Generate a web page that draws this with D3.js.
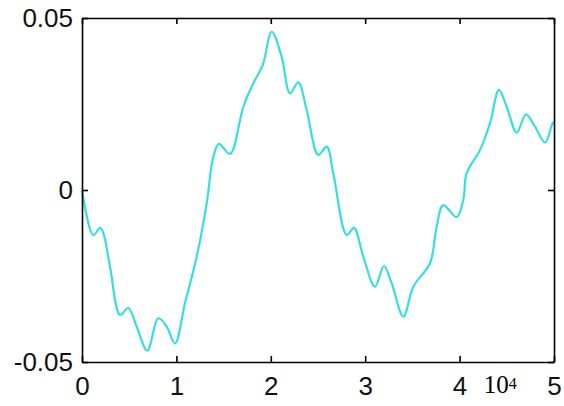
<!DOCTYPE html>
<html>
<head>
<meta charset="utf-8">
<script src="https://cdn.jsdelivr.net/npm/d3@7"></script>
<style>
  html, body { margin: 0; padding: 0; background: #fff; }
  svg { display: block; }
  .axis path, .axis line { stroke: #000; stroke-width: 1.6; }
  .axis text { font-family: "Liberation Sans", Arial, sans-serif; font-size: 26px; fill: #111; }
</style>
</head>
<body>
<div id="chart"></div>
<script>
// x in units of 10^4
const xValues = [0, 0.12, 0.191, 0.226, 0.297, 0.403, 0.49, 0.579, 0.692, 0.808, 0.897, 0.985,
  1.091, 1.215, 1.321, 1.391, 1.451, 1.568, 1.709, 1.815, 1.914, 2.01, 2.115, 2.203, 2.291,
  2.38, 2.503, 2.592, 2.662, 2.804, 2.881, 2.98, 3.104, 3.199, 3.281, 3.404, 3.51, 3.686,
  3.757, 3.827, 3.969, 4.039, 4.075, 4.216, 4.322, 4.417, 4.499, 4.605, 4.703, 4.799, 4.905,
  4.982, 5];
const yValues = [0, -0.0131, -0.011, -0.0125, -0.0223, -0.0363, -0.0343, -0.0397, -0.0467,
  -0.0373, -0.0397, -0.0446, -0.0329, -0.0194, -0.0039, 0.0097, 0.0134, 0.0105, 0.0242,
  0.031, 0.0363, 0.046, 0.0387, 0.0281, 0.0313, 0.0233, 0.0102, 0.0126, 0.0049, -0.0131,
  -0.011, -0.0194, -0.0281, -0.0221, -0.0271, -0.0368, -0.0281, -0.0213, -0.0107, -0.0044,
  -0.0079, -0.0029, 0.0049, 0.0116, 0.0194, 0.0291, 0.0242, 0.0167, 0.022, 0.0184, 0.0138,
  0.0192, 0.0198];

const xTicks = [0, 1, 2, 3, 4, 5];
const xTickLabels = ['0', '1', '2', '3', '4', '5'];
const yTicks = [-0.05, 0, 0.05];
const yTickLabels = ['-0.05', '0', '0.05'];

const width = 564, height = 406;
const margin = { top: 18, right: 10, bottom: 44, left: 82 };
const w = width - margin.left - margin.right;
const h = height - margin.top - margin.bottom;

const svg = d3.select('#chart').append('svg')
  .attr('width', width)
  .attr('height', height);

svg.append('rect').attr('width', width).attr('height', height).attr('fill', '#fff');

const g = svg.append('g')
  .attr('transform', 'translate(' + margin.left + ',' + margin.top + ')');

const x = d3.scaleLinear().domain([0, 5]).range([0, w]);
const y = d3.scaleLinear().domain([-0.05, 0.05]).range([h, 0]);

// line
const data = xValues.map((d, i) => ({ x: d, y: yValues[i] }));
const line = d3.line()
  .x(d => x(d.x))
  .y(d => y(d.y))
  .curve(d3.curveCatmullRom.alpha(0.5));

g.append('path')
  .datum(data)
  .attr('fill', 'none')
  .attr('stroke', '#38dede')
  .attr('stroke-width', 2.2)
  .attr('stroke-linejoin', 'round')
  .attr('d', line);

// axes (ticks point inward, box on all four sides)
g.append('g').attr('class', 'axis')
  .attr('transform', 'translate(0,' + h + ')')
  .call(d3.axisBottom(x).tickValues(xTicks).tickFormat((d, i) => xTickLabels[i])
    .tickSizeInner(-6).tickSizeOuter(0).tickPadding(15));

g.append('g').attr('class', 'axis')
  .call(d3.axisTop(x).tickValues(xTicks).tickFormat('')
    .tickSizeInner(-6).tickSizeOuter(0));

g.append('g').attr('class', 'axis')
  .call(d3.axisLeft(y).tickValues(yTicks).tickFormat((d, i) => yTickLabels[i])
    .tickSizeInner(-6).tickSizeOuter(0).tickPadding(9));

g.append('g').attr('class', 'axis')
  .attr('transform', 'translate(' + w + ',0)')
  .call(d3.axisRight(y).tickValues(yTicks).tickFormat('')
    .tickSizeInner(-6).tickSizeOuter(0));

svg.selectAll('.axis text').attr('font-family', null).attr('font-size', null);

// exponent label
const expo = g.append('text')
  .attr('x', x(4.255))
  .attr('y', h + 31)
  .attr('font-family', '"Liberation Serif", "Times New Roman", serif')
  .attr('font-size', 25)
  .attr('fill', '#000');
expo.append('tspan').text('10');
expo.append('tspan').attr('font-size', 16).attr('dy', -4).text('4');
</script>
</body>
</html>
